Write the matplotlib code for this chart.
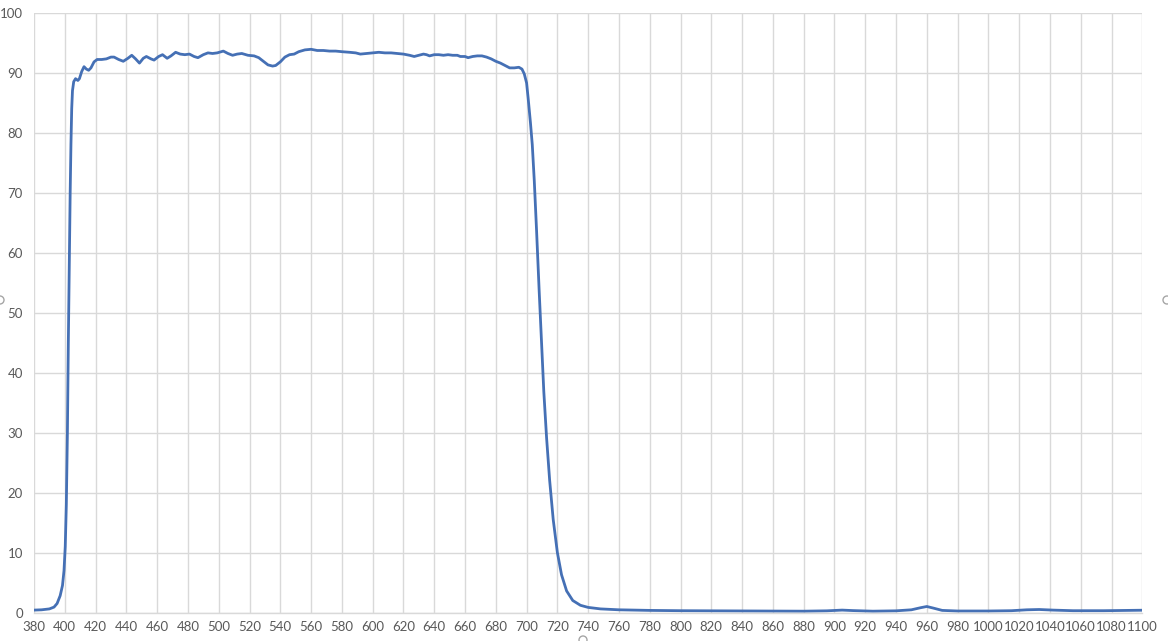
import matplotlib
matplotlib.use("Agg")
import matplotlib.pyplot as plt
from matplotlib.patches import Ellipse

# wavelength (nm) and transmission (%)
wavelength = [
    380, 385, 390, 393, 395, 397, 398.5, 399.5, 400.3, 401, 401.7, 402.3, 402.9,
    403.5, 404, 404.5, 405, 405.8, 407, 408.5, 409.5, 411, 412.5, 414, 415.5, 417,
    419, 421, 424, 427, 430, 432, 435, 438, 441, 443.5, 446, 448.5, 451, 453, 456,
    458, 461, 463.5, 466.5, 469, 472, 475, 478, 481, 484, 486.5, 490, 493, 496, 499,
    503, 506, 509, 512, 515, 519, 523, 526, 529, 532, 535, 537, 540, 543, 546, 549,
    552, 556, 560, 564, 568, 572, 576, 580, 585, 589, 592, 596, 600, 604, 608, 612,
    616, 620, 624, 627, 630, 633, 635, 637, 640, 643, 646, 649, 652, 655, 657, 660,
    662, 665, 668, 671, 674, 677, 680, 683, 686, 689, 692, 695, 697, 698.5, 700,
    701, 702.5, 703.7, 705, 706.5, 708.2, 709.7, 711.2, 713, 715, 717.3, 720, 722.7,
    726, 730, 735, 740, 748, 760, 780, 800, 850, 880, 895, 905, 912, 925, 940, 950,
    956, 960, 964, 970, 980, 1000, 1015, 1025, 1033, 1042, 1055, 1075, 1100,
]
transmission = [
    0.4, 0.45, 0.6, 0.9, 1.5, 2.8, 4.5, 7, 11, 18, 30, 45, 58,
    70, 78, 84, 87, 88.5, 89.0, 88.7, 89.0, 90.2, 91.0, 90.6, 90.4, 90.8,
    91.8, 92.2, 92.2, 92.3, 92.6, 92.6, 92.2, 91.9, 92.4, 92.9, 92.3, 91.6, 92.4, 92.7, 92.3,
    92.1, 92.7, 93.0, 92.4, 92.8, 93.4, 93.1, 93.0, 93.1, 92.7, 92.5, 93.0, 93.3, 93.2, 93.3,
    93.6, 93.2, 92.9, 93.1, 93.2, 92.9, 92.8, 92.5, 91.9, 91.3, 91.1, 91.2, 91.8, 92.6, 93.0, 93.1,
    93.5, 93.8, 93.9, 93.7, 93.7, 93.6, 93.6, 93.5, 93.4, 93.3, 93.1, 93.2, 93.3, 93.4, 93.3, 93.3,
    93.2, 93.1, 92.9, 92.7, 92.9, 93.1, 93.0, 92.8, 93.0, 93.0, 92.9, 93.0, 92.9, 92.9, 92.7, 92.7,
    92.5, 92.7, 92.8, 92.8, 92.6, 92.3, 91.9, 91.6, 91.2, 90.8, 90.8, 90.9, 90.6, 89.8, 88.3,
    85.8, 81.7, 78, 72, 63.6, 53.5, 45.2, 36.8, 29.1, 22, 15.5, 10, 6.3,
    3.6, 2.0, 1.2, 0.85, 0.6, 0.45, 0.35, 0.3, 0.25, 0.22, 0.28, 0.4, 0.32, 0.22, 0.28, 0.45,
    0.8, 1.0, 0.75, 0.35, 0.25, 0.25, 0.3, 0.45, 0.5, 0.4, 0.3, 0.3, 0.38,
]

x_ticks = list(range(380, 1101, 20))
y_ticks = list(range(0, 101, 10))

GRID = "#d9d9d9"
LABEL = "#595959"
LINE = "#4570b5"

plt.rcParams["font.family"] = ["Lato", "DejaVu Sans"]

fig = plt.figure(figsize=(11.68, 6.41), dpi=100)
ax = fig.add_axes([34 / 1168, 28.5 / 641, 1108.3 / 1168, 599.8 / 641])

ax.plot(wavelength, transmission, color=LINE, linewidth=2.0, solid_joinstyle="round")

ax.set_xlim(380, 1100)
ax.set_ylim(0, 100)
ax.set_xticks(x_ticks)
ax.set_yticks(y_ticks)
ax.grid(True, color=GRID, linewidth=1)
ax.set_axisbelow(True)

for side in ["top", "right", "left"]:
    ax.spines[side].set_visible(False)
ax.spines["bottom"].set_color(GRID)
ax.spines["bottom"].set_linewidth(1)

ax.tick_params(axis="both", length=0, labelsize=9.5, labelcolor=LABEL)
ax.tick_params(axis="x", pad=6)
ax.tick_params(axis="y", pad=8)

# chart-frame selection handles at the edges
for cx, cy in [(0, 300), (1167, 300), (583, 640)]:
    fig.patches.append(Ellipse((cx / 1168, 1 - cy / 641), 8 / 1168, 8 / 641,
                               transform=fig.transFigure, fill=False,
                               edgecolor="#a6a6a6", linewidth=1))

fig.savefig("out.png", dpi=100)
